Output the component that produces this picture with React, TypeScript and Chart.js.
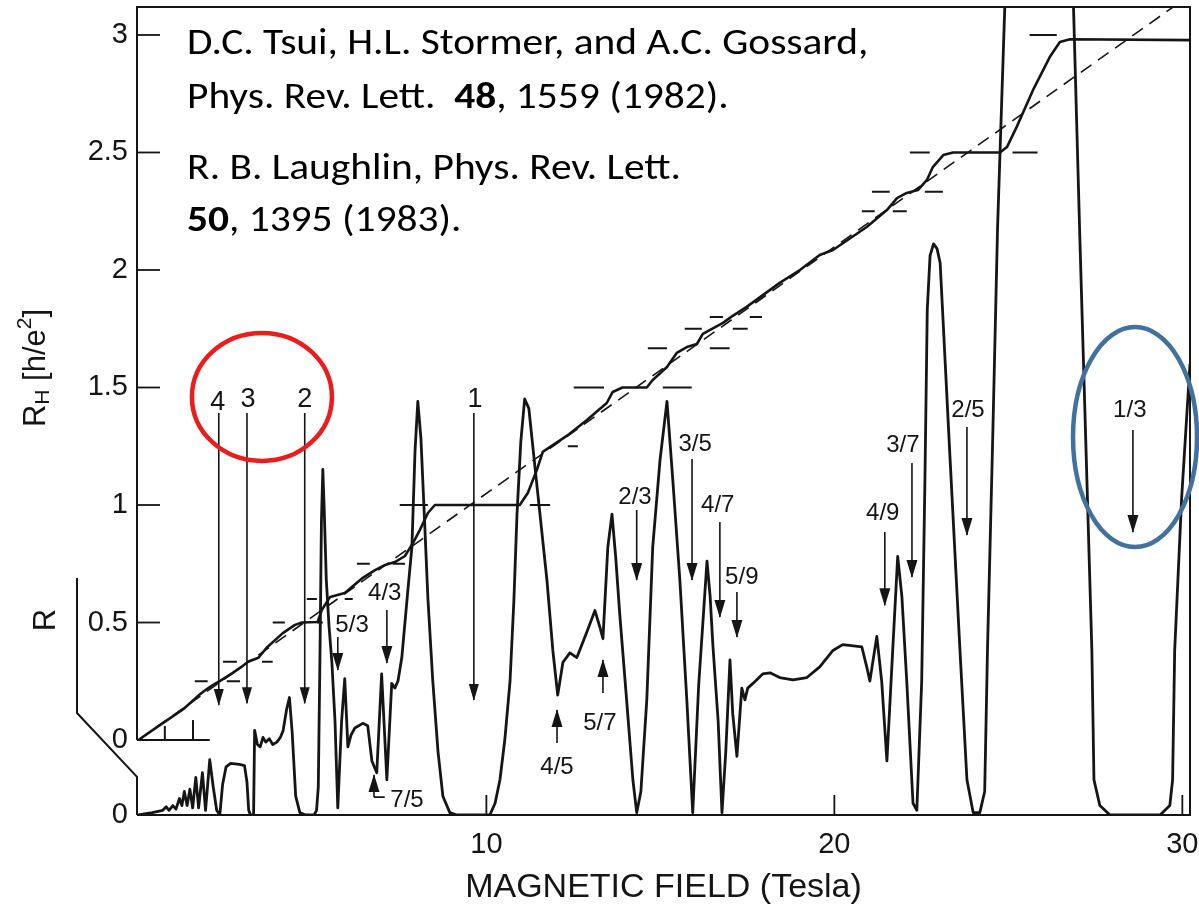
import { useEffect, useRef } from 'react';
import { Chart, registerables } from 'chart.js';

Chart.register(...registerables);

// Magnetic field axis, Tesla
const X_MIN = -0.04;
const X_MAX = 30.22;
const X_TICKS = [10, 20, 30];

// Hall resistance axis in h/e^2; the longitudinal trace R shares it, with its own zero at the bottom
const R_ZERO = -0.319;
const Y_MAX = 3.119;
const Y_TICKS = [R_ZERO, 0, 0.5, 1, 1.5, 2, 2.5, 3];
const Y_TICK_LABELS = ['0', '0', '0.5', '1', '1.5', '2', '2.5', '3'];

// Hall resistance R_H [h/e^2] against field [T]
const HALL_TRACE = [
  [0, 0], [0.7, 0.072], [1.28, 0.13], [1.77, 0.195], [1.95, 0.215], [2.15, 0.235], [2.35, 0.252],
  [2.7, 0.285], [2.95, 0.31], [3.15, 0.333], [3.45, 0.35], [3.7, 0.395], [4.15, 0.455], [4.5, 0.49],
  [4.7, 0.5], [5.15, 0.502], [5.27, 0.553], [5.51, 0.609], [5.93, 0.626], [6.45, 0.69], [6.8, 0.723],
  [7.09, 0.745], [7.37, 0.757], [7.66, 0.783], [7.89, 0.838], [8.09, 0.894], [8.32, 0.966], [8.52, 1.0],
  [10.96, 1.0], [11.19, 1.051], [11.45, 1.149], [11.62, 1.226], [11.91, 1.255], [12.31, 1.294],
  [12.89, 1.362], [13.46, 1.434], [13.63, 1.481], [13.91, 1.5], [14.61, 1.5], [14.78, 1.532],
  [15.19, 1.587], [15.47, 1.647], [15.76, 1.672], [16.05, 1.685], [16.22, 1.728], [16.51, 1.752],
  [16.8, 1.775], [17.08, 1.805], [17.48, 1.843], [18.43, 1.945], [19.01, 2.0], [19.58, 2.064],
  [19.96, 2.085], [20.93, 2.183], [21.51, 2.255], [21.8, 2.306], [22.08, 2.328], [22.4, 2.34],
  [22.66, 2.383], [22.83, 2.438], [23.13, 2.489], [23.41, 2.5], [24.76, 2.5], [24.96, 2.523],
  [25.24, 2.609], [25.71, 2.766], [26.19, 2.906], [26.48, 2.97], [26.77, 2.982], [30.22, 2.978],
];

// Longitudinal resistance R (arbitrary units, same scale as R_H) against field [T]
const R_TRACE = [
  [0.0, 0.0], [0.4, 0.01], [0.7, 0.02], [0.8, 0.035], [0.88, 0.02], [0.99, 0.04], [1.08, 0.025],
  [1.18, 0.07], [1.25, 0.04], [1.32, 0.1], [1.4, 0.04], [1.48, 0.11], [1.56, 0.03], [1.65, 0.16],
  [1.73, 0.03], [1.84, 0.18], [1.93, 0.02], [2.05, 0.235], [2.15, 0.12], [2.25, 0.02], [2.34, 0.0],
  [2.42, 0.13], [2.52, 0.205], [2.65, 0.22], [2.9, 0.215], [3.05, 0.21], [3.12, 0.14], [3.17, 0.02],
  [3.22, 0.0], [3.31, 0.0], [3.34, 0.36], [3.42, 0.3], [3.5, 0.29], [3.58, 0.33], [3.66, 0.31],
  [3.76, 0.325], [3.86, 0.3], [3.98, 0.31], [4.08, 0.33], [4.16, 0.36], [4.26, 0.45], [4.34, 0.5],
  [4.42, 0.35], [4.52, 0.08], [4.64, 0.01], [4.8, 0.0], [5.05, 0.0], [5.12, 0.02], [5.17, 0.12],
  [5.22, 0.7], [5.26, 1.25], [5.3, 1.47], [5.34, 1.3], [5.4, 1.0], [5.48, 0.8], [5.56, 0.65],
  [5.65, 0.4], [5.73, 0.03], [5.84, 0.4], [5.93, 0.58], [6.02, 0.29], [6.11, 0.34], [6.22, 0.37],
  [6.45, 0.39], [6.59, 0.38], [6.71, 0.23], [6.85, 0.18], [6.99, 0.6], [7.14, 0.15], [7.28, 0.56],
  [7.37, 0.54], [7.46, 0.57], [7.57, 0.67], [7.74, 0.95], [7.86, 1.14], [7.95, 1.55], [8.03, 1.76],
  [8.12, 1.6], [8.23, 1.23], [8.32, 0.92], [8.46, 0.57], [8.61, 0.27], [8.75, 0.08], [8.95, 0.01],
  [9.15, 0.0], [10.1, 0.0], [10.25, 0.05], [10.39, 0.15], [10.53, 0.32], [10.68, 0.57], [10.79, 0.91],
  [10.88, 1.28], [10.99, 1.59], [11.1, 1.77], [11.22, 1.73], [11.34, 1.56], [11.54, 1.28], [11.74, 1.0],
  [11.91, 0.7], [12.05, 0.51], [12.2, 0.65], [12.4, 0.69], [12.6, 0.67], [12.89, 0.78], [13.12, 0.87],
  [13.26, 0.8], [13.35, 0.75], [13.49, 1.14], [13.61, 1.28], [13.72, 1.09], [13.83, 0.86], [14.03, 0.49],
  [14.21, 0.15], [14.32, 0.01], [14.44, 0.1], [14.61, 0.49], [14.78, 1.14], [14.99, 1.51], [15.19, 1.76],
  [15.36, 1.42], [15.56, 1.0], [15.76, 0.49], [15.93, 0.01], [16.1, 0.55], [16.34, 1.08], [16.43, 0.93],
  [16.51, 0.72], [16.66, 0.4], [16.77, 0.01], [16.88, 0.27], [17.0, 0.66], [17.08, 0.43], [17.2, 0.25],
  [17.34, 0.54], [17.43, 0.49], [17.51, 0.54], [17.66, 0.56], [17.94, 0.6], [18.15, 0.605], [18.43, 0.585],
  [18.81, 0.575], [19.21, 0.585], [19.58, 0.63], [19.96, 0.7], [20.24, 0.725], [20.79, 0.715],
  [20.93, 0.63], [21.02, 0.57], [21.22, 0.76], [21.36, 0.57], [21.51, 0.23], [21.68, 0.71], [21.82, 1.1],
  [21.94, 0.93], [22.08, 0.57], [22.26, 0.05], [22.37, 0.02], [22.51, 0.57], [22.6, 1.4], [22.67, 2.15],
  [22.75, 2.38], [22.85, 2.43], [22.95, 2.41], [23.04, 2.35], [23.32, 1.53], [23.61, 0.7], [23.81, 0.15],
  [23.99, 0.01], [24.18, 0.01], [24.32, 0.1], [24.4, 0.7], [24.55, 1.6], [24.69, 2.5], [24.9, 3.45],
  [25.9, 9.0], [26.87, 3.45], [27.05, 2.48], [27.4, 0.7], [27.46, 0.15], [27.63, 0.04], [27.92, 0.0],
  [29.36, 0.0], [29.64, 0.04], [29.72, 0.15], [29.78, 0.7], [29.98, 1.35], [30.22, 1.92],
];

// Classical Hall line (dashed)
const CLASSICAL_LINE = [[0, 0], [30.22, 3.17]];

// Short marks at the quantized values h/(nu e^2): [R_H, B from, B to]
const PLATEAU_MARKS = [
  [1 / 4, 1.62, 1.99], [1 / 4, 2.54, 2.92],
  [1 / 3, 2.43, 2.83], [1 / 3, 3.55, 3.86],
  [1 / 2, 3.86, 4.21], [1 / 2, 5.13, 5.3],
  [3 / 5, 4.84, 5.13], [3 / 5, 5.93, 6.16],
  [3 / 4, 6.28, 6.65], [3 / 4, 7.31, 7.66],
  [1, 7.51, 8.32], [1, 11.25, 11.83],
  [5 / 4, 12.34, 12.63],
  [3 / 2, 12.51, 13.38], [3 / 2, 15.07, 15.9],
  [5 / 3, 14.64, 15.19], [5 / 3, 16.42, 16.99],
  [7 / 4, 15.7, 16.19], [7 / 4, 17.08, 17.51],
  [9 / 5, 16.42, 16.8], [9 / 5, 17.57, 17.92],
  [9 / 4, 20.79, 21.16], [9 / 4, 21.68, 22.08],
  [7 / 3, 21.08, 21.59], [7 / 3, 22.6, 23.12],
  [5 / 2, 22.17, 22.74], [5 / 2, 25.12, 25.84],
  [3, 25.61, 26.39],
];

// Filling factors: label, arrow field, arrow from/to (R_H units), label position
const INTEGER_ARROWS = [
  { label: '4', b: 2.31, from: 1.391, to: 0.149, lb: 2.28, ly: 1.438 },
  { label: '3', b: 3.12, from: 1.391, to: 0.157, lb: 3.15, ly: 1.447 },
  { label: '2', b: 4.78, from: 1.391, to: 0.157, lb: 4.78, ly: 1.447 },
  { label: '1', b: 9.64, from: 1.391, to: 0.17, lb: 9.67, ly: 1.447 },
];

const FRACTION_ARROWS = [
  { label: '5/3', b: 5.73, from: 0.438, to: 0.298, lb: 6.14, ly: 0.489 },
  { label: '4/3', b: 7.14, from: 0.553, to: 0.328, lb: 7.08, ly: 0.626 },
  { label: '7/5', b: 6.77, from: -0.243, to: -0.149, lb: 7.72, ly: -0.255 },
  { label: '4/5', b: 12.03, from: -0.013, to: 0.128, lb: 12.03, ly: -0.115 },
  { label: '5/7', b: 13.35, from: 0.2, to: 0.34, lb: 13.26, ly: 0.072 },
  { label: '2/3', b: 14.32, from: 0.979, to: 0.681, lb: 14.27, ly: 1.034 },
  { label: '3/5', b: 15.91, from: 1.196, to: 0.681, lb: 16.0, ly: 1.26 },
  { label: '4/7', b: 16.71, from: 0.928, to: 0.523, lb: 16.65, ly: 1.0 },
  { label: '5/9', b: 17.2, from: 0.63, to: 0.438, lb: 17.34, ly: 0.694 },
  { label: '4/9', b: 21.45, from: 0.885, to: 0.574, lb: 21.39, ly: 0.966 },
  { label: '3/7', b: 22.23, from: 1.179, to: 0.694, lb: 21.97, ly: 1.255 },
  { label: '2/5', b: 23.81, from: 1.332, to: 0.872, lb: 23.84, ly: 1.404 },
  { label: '1/3', b: 28.58, from: 1.319, to: 0.885, lb: 28.49, ly: 1.404 },
];

// Leader from the 7/5 arrow to its label
const LEADER_7_5 = [[6.77, -0.243], [7.08, -0.243]];

// Small inset scale at the R_H origin
const INSET_END = 2.05;
const INSET_TICKS = [[0.76, 0.06], [1.57, 0.085]];

const REFERENCES = [
  { runs: [{ t: 'D.C. Tsui, H.L. Stormer, and A.C. Gossard,' }], y: 45, w: 698 },
  { runs: [{ t: 'Phys. Rev. Lett.  ' }, { t: '48', b: true }, { t: ', 1559 (1982).' }], y: 99, w: 558 },
  { runs: [{ t: 'R. B. Laughlin, Phys. Rev. Lett.' }], y: 170, w: 540 },
  { runs: [{ t: '50', b: true }, { t: ', 1395 (1983).' }], y: 222, w: 281 },
];

const INK = '#151515';
const FONT = '"Liberation Sans", Arial, Helvetica, sans-serif';
const REF_FONT = 'Carlito, Lato, "Open Sans", sans-serif';

const pts = (arr) => arr.map(([x, y]) => ({ x, y }));

function segmentsWithGaps(list) {
  const out = [];
  list.forEach((s) => {
    s.forEach(([x, y]) => out.push({ x, y }));
    out.push({ x: s[s.length - 1][0], y: null });
  });
  return out;
}

const decorPlugin = {
  id: 'figureDecor',
  afterDatasetsDraw(chart) {
    const { ctx, chartArea: a, scales } = chart;
    const xs = scales.x;
    const ys = scales.y;
    const px = (v) => xs.getPixelForValue(v);
    const py = (v) => ys.getPixelForValue(v);
    const line = (p) => {
      ctx.beginPath();
      p.forEach(([u, v], i) => (i ? ctx.lineTo(u, v) : ctx.moveTo(u, v)));
      ctx.stroke();
    };
    ctx.save();
    ctx.strokeStyle = INK;
    ctx.fillStyle = INK;
    ctx.lineWidth = 2;
    ctx.lineJoin = 'miter';

    // frame
    line([[a.left, py(0)], [a.left, a.top], [a.right, a.top], [a.right, a.bottom], [a.left, a.bottom]]);
    // bracket of the R axis
    line([[a.left, a.bottom], [a.left, py(-0.157)], [a.left - 60, py(0.115)], [a.left - 60, py(0.689)]]);
    // inset scale at the origin
    line([[a.left, py(0)], [px(INSET_END), py(0)]]);
    INSET_TICKS.forEach(([b, h]) => line([[px(b), py(0)], [px(b), py(h)]]));
    // inward ticks
    ctx.lineWidth = 1.8;
    Y_TICKS.filter((v) => v > 0).forEach((v) => line([[a.left, py(v)], [a.left + 23, py(v)]]));
    X_TICKS.forEach((v) => line([[px(v), a.bottom], [px(v), a.bottom - 20]]));

    // arrow heads
    const head = (b, from, to, hw, hl) => {
      const x = px(b);
      const yt = py(to);
      const dir = Math.sign(py(to) - py(from));
      ctx.beginPath();
      ctx.moveTo(x, yt + dir);
      ctx.lineTo(x - hw, yt - dir * hl);
      ctx.lineTo(x + hw, yt - dir * hl);
      ctx.closePath();
      ctx.fill();
    };
    INTEGER_ARROWS.forEach((r) => head(r.b, r.from, r.to, 5, 16));
    FRACTION_ARROWS.forEach((r) => head(r.b, r.from, r.to, 5.5, 17));

    // arrow labels
    ctx.textAlign = 'center';
    ctx.textBaseline = 'middle';
    ctx.font = `27px ${FONT}`;
    INTEGER_ARROWS.forEach((r) => ctx.fillText(r.label, px(r.lb), py(r.ly)));
    ctx.font = `24px ${FONT}`;
    FRACTION_ARROWS.forEach((r) => ctx.fillText(r.label, px(r.lb), py(r.ly)));
    ctx.restore();
  },
  afterDraw(chart) {
    const { ctx, chartArea: a, scales } = chart;
    const px = (v) => scales.x.getPixelForValue(v);
    const py = (v) => scales.y.getPixelForValue(v);
    ctx.save();

    // axis titles with sub/superscripts
    const runs = [
      { t: 'R', s: 31, dy: 0 },
      { t: 'H', s: 21, dy: 7 },
      { t: ' [h/e', s: 31, dy: 0 },
      { t: '2', s: 21, dy: -11 },
      { t: ']', s: 31, dy: 0 },
    ];
    ctx.fillStyle = INK;
    ctx.textBaseline = 'middle';
    ctx.textAlign = 'left';
    const widths = runs.map((r) => {
      ctx.font = `${r.s}px ${FONT}`;
      return ctx.measureText(r.t).width;
    });
    const total = widths.reduce((s, w) => s + w, 0);
    ctx.save();
    ctx.translate(a.left - 101, 368);
    ctx.rotate(-Math.PI / 2);
    let cx = -total / 2;
    runs.forEach((r, i) => {
      ctx.font = `${r.s}px ${FONT}`;
      ctx.fillText(r.t, cx, r.dy);
      cx += widths[i];
    });
    ctx.restore();

    ctx.save();
    ctx.translate(a.left - 91, py(0.51));
    ctx.rotate(-Math.PI / 2);
    ctx.textAlign = 'center';
    ctx.font = `31px ${FONT}`;
    ctx.fillText('R', 0, 0);
    ctx.restore();

    // references
    ctx.fillStyle = '#000';
    REFERENCES.forEach((ref) => {
      const ws = ref.runs.map((r) => {
        ctx.font = `${r.b ? 'bold ' : ''}36px ${REF_FONT}`;
        return ctx.measureText(r.t).width;
      });
      const tw = ws.reduce((s, w) => s + w, 0);
      const sx = Math.max(0.8, Math.min(1.15, ref.w / tw));
      ctx.save();
      ctx.translate(a.left + 50, ref.y);
      ctx.scale(sx, 1);
      let x = 0;
      ref.runs.forEach((r, i) => {
        ctx.font = `${r.b ? 'bold ' : ''}36px ${REF_FONT}`;
        ctx.fillText(r.t, x, 0);
        x += ws[i];
      });
      ctx.restore();
    });

    // highlight rings
    ctx.lineWidth = 4.5;
    ctx.strokeStyle = '#ec1c1c';
    ctx.beginPath();
    ctx.ellipse(px(3.55), py(1.46), 70, 64, 0, 0, Math.PI * 2);
    ctx.stroke();
    ctx.strokeStyle = '#41719c';
    ctx.beginPath();
    ctx.ellipse(px(28.64), py(1.289), 62, 110, 0, 0, Math.PI * 2);
    ctx.stroke();
    ctx.restore();
  },
};

export default function App() {
  const ref = useRef(null);

  useEffect(() => {
    const shafts = segmentsWithGaps([
      ...INTEGER_ARROWS.map((r) => [[r.b, r.from], [r.b, r.to]]),
      ...FRACTION_ARROWS.map((r) => [[r.b, r.from], [r.b, r.to]]),
      LEADER_7_5,
    ]);
    const marks = segmentsWithGaps(PLATEAU_MARKS.map(([v, b0, b1]) => [[b0, v], [b1, v]]));

    const chart = new Chart(ref.current, {
      type: 'line',
      data: {
        datasets: [
          {
            label: 'classical',
            data: pts(CLASSICAL_LINE),
            borderColor: INK,
            borderWidth: 1.6,
            borderDash: [13, 8],
          },
          {
            label: 'plateau marks',
            data: marks,
            borderColor: INK,
            borderWidth: 2,
            spanGaps: false,
          },
          {
            label: 'arrows',
            data: shafts,
            borderColor: INK,
            borderWidth: 1.6,
            spanGaps: false,
          },
          {
            label: 'R_H',
            data: pts(HALL_TRACE),
            borderColor: INK,
            borderWidth: 2.6,
            borderJoinStyle: 'round',
          },
          {
            label: 'R',
            data: R_TRACE.map(([x, r]) => ({ x, y: r + R_ZERO })),
            borderColor: INK,
            borderWidth: 2.8,
            borderJoinStyle: 'round',
          },
        ],
      },
      options: {
        animation: false,
        responsive: false,
        maintainAspectRatio: false,
        devicePixelRatio: 1,
        layout: { padding: { left: 0, right: 9, top: 7, bottom: 0 } },
        elements: { point: { radius: 0, hoverRadius: 0 }, line: { tension: 0, fill: false } },
        plugins: { legend: { display: false }, tooltip: { enabled: false } },
        events: [],
        scales: {
          x: {
            type: 'linear',
            min: X_MIN,
            max: X_MAX,
            grid: { display: false, drawTicks: false },
            border: { display: false },
            afterBuildTicks: (s) => {
              s.ticks = X_TICKS.map((v) => ({ value: v }));
            },
            afterFit: (s) => {
              s.height = 93;
              s.paddingLeft = 0;
              s.paddingRight = 0;
            },
            ticks: {
              autoSkip: false,
              maxRotation: 0,
              padding: 13,
              color: INK,
              font: { family: FONT, size: 29 },
              callback: (v) => String(v),
            },
            title: {
              display: true,
              text: 'MAGNETIC FIELD (Tesla)',
              color: INK,
              font: { family: FONT, size: 34 },
              padding: { top: 0, bottom: 0 },
            },
          },
          y: {
            type: 'linear',
            min: R_ZERO,
            max: Y_MAX,
            grid: { display: false, drawTicks: false },
            border: { display: false },
            afterBuildTicks: (s) => {
              s.ticks = Y_TICKS.map((v) => ({ value: v }));
            },
            afterFit: (s) => {
              s.width = 137;
              s.paddingTop = 0;
              s.paddingBottom = 0;
            },
            ticks: {
              autoSkip: false,
              padding: 9,
              color: INK,
              font: { family: FONT, size: 29 },
              callback: (v, i) => Y_TICK_LABELS[i] ?? '',
            },
          },
        },
      },
      plugins: [decorPlugin],
    });
    return () => chart.destroy();
  }, []);

  return (
    <div style={{ position: 'absolute', left: 0, top: 0, width: 1199, height: 908, background: '#fff' }}>
      <canvas ref={ref} width={1199} height={908} style={{ display: 'block' }} />
    </div>
  );
}
